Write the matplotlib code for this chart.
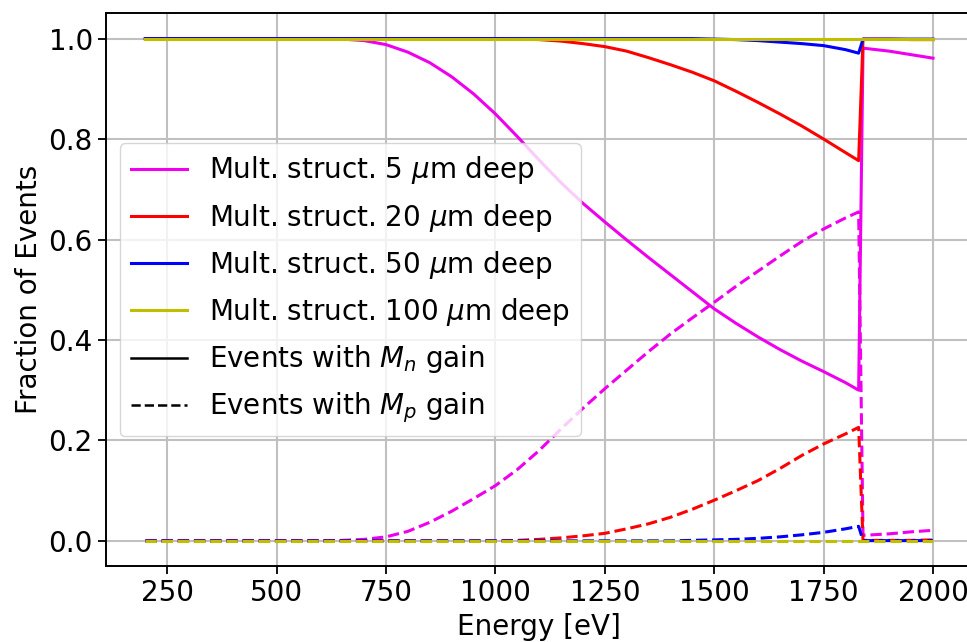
import numpy as np
import matplotlib
matplotlib.use("Agg")
import matplotlib.pyplot as plt
from matplotlib.lines import Line2D

# energies [eV]; K-edge jump between 1830 and 1840
energy = [200, 300, 400, 500, 600, 650, 700, 750, 800, 850, 900, 950, 1000,
          1050, 1100, 1150, 1200, 1250, 1300, 1350, 1400, 1450, 1500, 1550,
          1600, 1650, 1700, 1750, 1800, 1830, 1840, 1900, 1950, 2000]

# 5 um deep
m5_n = [1.0, 1.0, 1.0, 1.0, 1.0, 0.999, 0.996, 0.988, 0.973, 0.952, 0.924, 0.890, 0.850,
        0.805, 0.758, 0.713, 0.672, 0.635, 0.599, 0.564, 0.530, 0.496, 0.462, 0.433,
        0.406, 0.381, 0.358, 0.337, 0.315, 0.300, 0.981, 0.975, 0.968, 0.961]
m5_p = [0.0, 0.0, 0.0, 0.0, 0.0, 0.001, 0.003, 0.008, 0.019, 0.037, 0.059, 0.084, 0.110,
        0.142, 0.180, 0.223, 0.264, 0.303, 0.340, 0.377, 0.412, 0.444, 0.475, 0.507,
        0.537, 0.567, 0.596, 0.621, 0.643, 0.655, 0.011, 0.014, 0.018, 0.021]

# 20 um deep
m20_n = [1.0, 1.0, 1.0, 1.0, 1.0, 1.0, 1.0, 1.0, 1.0, 1.0, 1.0, 1.0, 1.0,
         0.999, 0.998, 0.995, 0.990, 0.984, 0.975, 0.962, 0.948, 0.933, 0.916, 0.895,
         0.873, 0.850, 0.826, 0.800, 0.773, 0.757, 0.999, 0.999, 0.998, 0.998]
m20_p = [0.0, 0.0, 0.0, 0.0, 0.0, 0.0, 0.0, 0.0, 0.0, 0.0, 0.0, 0.0, 0.0,
         0.001, 0.003, 0.006, 0.010, 0.015, 0.024, 0.034, 0.047, 0.063, 0.081, 0.100,
         0.120, 0.144, 0.170, 0.193, 0.213, 0.226, 0.001, 0.001, 0.001, 0.002]

# 50 um deep
m50_n = [1.0, 1.0, 1.0, 1.0, 1.0, 1.0, 1.0, 1.0, 1.0, 1.0, 1.0, 1.0, 1.0,
         1.0, 1.0, 1.0, 1.0, 1.0, 1.0, 1.0, 1.0, 1.0, 0.999, 0.998,
         0.996, 0.993, 0.990, 0.986, 0.978, 0.971, 0.999, 0.999, 0.999, 0.999]
m50_p = [0.0, 0.0, 0.0, 0.0, 0.0, 0.0, 0.0, 0.0, 0.0, 0.0, 0.0, 0.0, 0.0,
         0.0, 0.0, 0.0, 0.0, 0.0, 0.0, 0.0, 0.0, 0.001, 0.002, 0.003,
         0.005, 0.008, 0.012, 0.017, 0.024, 0.029, 0.0005, 0.0005, 0.0005, 0.0005]

# 100 um deep
m100_n = [1.0] * len(energy)
m100_p = [0.0] * len(energy)

depths = ["5", "20", "50", "100"]
colors = ["#ee00ee", "r", "b", "y"]
n_gain = [m5_n, m20_n, m50_n, m100_n]
p_gain = [m5_p, m20_p, m50_p, m100_p]

fs = 20
fig = plt.figure(figsize=(9.67, 6.42), dpi=100)
ax = fig.add_axes([0.1096, 0.1184, 0.8960, 0.8606])

for c, yn, yp in zip(colors, n_gain, p_gain):
    ax.plot(energy, yn, color=c, lw=2.2)
    ax.plot(energy, yp, color=c, lw=2.2, ls="--")

ax.grid(True, color="#c0c0c0", lw=1.5)
ax.set_axisbelow(True)
ax.set_xticks([250, 500, 750, 1000, 1250, 1500, 1750, 2000])
ax.set_yticks([0.0, 0.2, 0.4, 0.6, 0.8, 1.0])
ax.tick_params(labelsize=fs, length=6, width=1.3)
for s in ax.spines.values():
    s.set_linewidth(1.4)
ax.set_xlabel("Energy [eV]", fontsize=fs)
ax.set_ylabel("Fraction of Events", fontsize=fs)

handles = [Line2D([], [], color=c, lw=2.2) for c in colors]
labels = ["Mult. struct. %s $\\mu$m deep" % d for d in depths]
handles += [Line2D([], [], color="k", lw=1.8), Line2D([], [], color="k", lw=1.8, ls="--")]
labels += ["Events with $M_n$ gain", "Events with $M_p$ gain"]
ax.legend(handles, labels, loc="center left", fontsize=fs, labelspacing=0.55)

fig.savefig("out.png", dpi=100)
